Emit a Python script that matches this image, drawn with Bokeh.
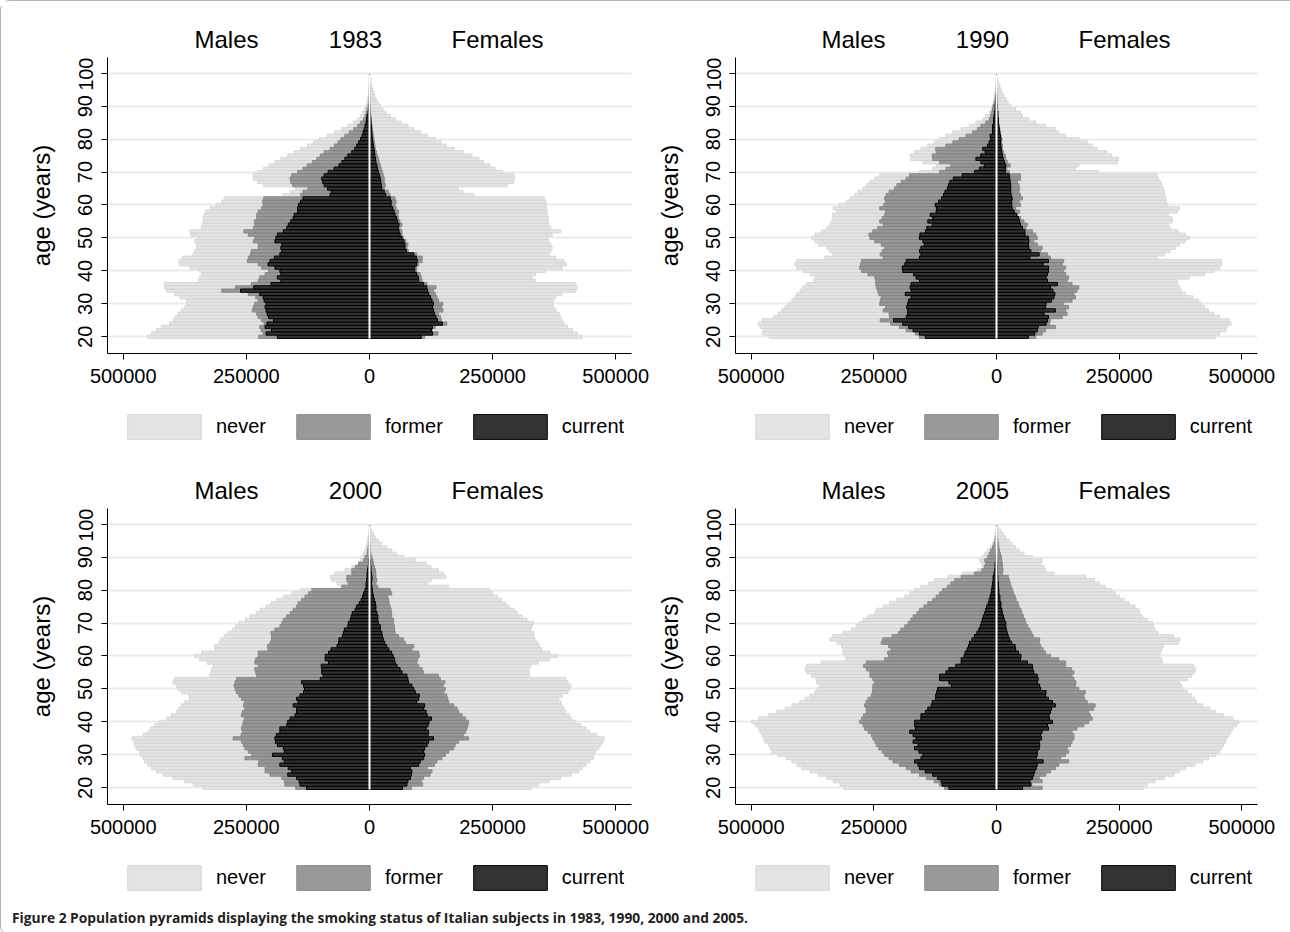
import numpy as np
from bokeh.plotting import figure
from bokeh.models import Range1d, FixedTicker, Legend, LegendItem, Div, ColumnDataSource
from bokeh.layouts import column, row
from bokeh.embed import file_html
from bokeh.resources import INLINE
from bokeh.core.properties import value

# ---------------------------------------------------------------- data
AGES = list(range(20, 100))                      # one bar per year of age
YEARS = ["1983", "1990", "2000", "2005"]
STATUSES = ["never", "former", "current"]
HEADER = ["Males", "Females"]
X_TICKS = [-500000, -250000, 0, 250000, 500000]
X_TICK_LABELS = ["500000", "250000", "0", "250000", "500000"]
Y_TICKS = [20, 30, 40, 50, 60, 70, 80, 90, 100]

# Cumulative counts in thousands of persons, ages 20..99.
#   *_CUR = current smokers, *_CF = current + former, *_ALL = all (incl. never)
M1983_ALL = [451, 443, 433, 423, 406, 399, 394, 389, 382, 375,
             371, 372, 385, 396, 412, 416, 417, 348, 345, 341,
             345, 365, 385, 387, 380, 358, 355, 351, 351, 355,
             348, 363, 365, 341, 340, 338, 338, 336, 332, 324,
             311, 300, 295, 175, 160, 150, 215, 228, 236, 236,
             227, 215, 204, 192, 180, 166, 153, 140, 126, 114,
             102, 86, 71, 57, 44, 33, 24, 18, 14, 10,
             7, 5, 4, 3, 2, 2, 1, 1, 1, 0.5]
M1983_CF = [225, 216, 220, 223, 214, 219, 226, 229, 238, 236,
            233, 226, 231, 246, 300, 272, 240, 226, 223, 212,
            205, 219, 226, 248, 246, 242, 240, 226, 226, 236,
            233, 246, 255, 236, 233, 234, 229, 229, 226, 219,
            216, 217, 215, 140, 135, 125, 156, 160, 161, 158,
            146, 135, 126, 116, 107, 100, 92, 80, 71, 64,
            58, 50, 41, 32, 24, 18, 12, 9, 7, 5,
            3, 2, 1.5, 1, 1, 0.5, 0.5, 0.3, 0.3, 0.2]
M1983_CUR = [187, 210, 199, 212, 208, 195, 205, 208, 210, 212,
             210, 214, 216, 223, 262, 235, 200, 180, 187, 180,
             182, 192, 206, 202, 193, 182, 178, 180, 178, 192,
             190, 187, 175, 168, 165, 160, 155, 153, 146, 146,
             144, 140, 135, 80, 78, 85, 92, 95, 97, 92,
             84, 72, 62, 56, 50, 44, 36, 30, 26, 22,
             18, 15, 13, 11, 9, 7, 6, 5, 3, 2,
             1.5, 1, 0.5, 0.5, 0.3, 0.2, 0.2, 0.1, 0.1, 0.1]
F1983_ALL = [432, 422, 412, 402, 395, 391, 388, 385, 379, 374,
             372, 374, 378, 391, 419, 422, 419, 337, 330, 337,
             357, 391, 400, 395, 378, 364, 368, 371, 368, 364,
             361, 371, 388, 368, 364, 363, 363, 361, 361, 359,
             359, 358, 355, 212, 190, 180, 280, 292, 295, 293,
             270, 255, 244, 232, 222, 208, 190, 172, 156, 145,
             134, 118, 104, 90, 78, 64, 52, 42, 33, 27,
             22, 18, 14, 11, 9, 7, 5, 4, 3, 1]
F1983_CF = [112, 139, 127, 134, 157, 146, 144, 140, 149, 147,
            149, 140, 137, 134, 130, 135, 117, 107, 105, 103,
            96, 96, 100, 107, 107, 96, 79, 76, 78, 74,
            69, 66, 66, 62, 66, 62, 59, 58, 59, 54,
            52, 54, 52, 42, 38, 30, 32, 30, 30, 28,
            26, 24, 22, 20, 18, 16, 14, 12, 11, 10,
            9, 8, 7, 6, 5, 4, 3, 3, 2, 2,
            1.5, 1, 1, 1, 0.5, 0.5, 0.5, 0.3, 0.3, 0.2]
F1983_CUR = [105, 128, 126, 128, 148, 138, 135, 132, 130, 128,
             130, 127, 124, 120, 118, 116, 110, 100, 99, 96,
             92, 92, 96, 97, 95, 90, 75, 72, 72, 70,
             66, 62, 60, 58, 60, 57, 55, 52, 50, 47,
             44, 44, 42, 33, 30, 25, 24, 23, 22, 20,
             18, 16, 15, 13, 12, 11, 10, 9, 8, 7,
             6, 5, 5, 4, 4, 3, 3, 2, 2, 1,
             1, 0.5, 0.5, 0.3, 0.3, 0.2, 0.2, 0.1, 0.1, 0.1]

M1990_ALL = [463, 478, 476, 482, 486, 478, 455, 445, 438, 431,
             424, 417, 411, 407, 400, 395, 387, 373, 370, 380,
             394, 407, 411, 407, 350, 334, 340, 346, 363, 370,
             377, 370, 357, 346, 340, 336, 333, 334, 326, 333,
             320, 306, 298, 289, 282, 272, 265, 258, 248, 238,
             157, 130, 123, 150, 175, 176, 167, 154, 140, 127,
             116, 103, 89, 72, 55, 42, 28, 22, 15, 11,
             8, 6, 5, 4, 3, 2, 2, 1, 1, 0.5]
M1990_CF = [157, 165, 184, 198, 216, 237, 218, 219, 231, 226,
            238, 237, 235, 240, 242, 245, 246, 246, 248, 262,
            275, 279, 277, 275, 231, 237, 233, 228, 235, 248,
            258, 260, 252, 242, 231, 238, 233, 228, 226, 238,
            230, 226, 228, 225, 219, 208, 203, 194, 184, 177,
            116, 103, 93, 116, 130, 131, 123, 124, 103, 89,
            76, 62, 49, 39, 32, 22, 15, 12, 10, 8,
            7, 5, 3, 2, 1, 0.5, 0.5, 0.3, 0.3, 0.2]
M1990_CUR = [145, 157, 170, 179, 191, 210, 184, 181, 181, 183,
             181, 179, 174, 186, 174, 176, 174, 157, 164, 169,
             191, 192, 187, 184, 157, 154, 157, 154, 147, 150,
             157, 156, 145, 142, 131, 140, 130, 135, 123, 122,
             125, 118, 112, 108, 105, 100, 98, 95, 88, 70,
             45, 35, 25, 32, 42, 32, 23, 28, 18, 15,
             12, 13, 8, 8, 8, 6, 6, 5, 4, 3,
             3, 2, 2, 2, 1, 0.5, 0.3, 0.2, 0.1, 0.1]
F1990_ALL = [447, 455, 467, 470, 478, 474, 455, 443, 432, 424,
             416, 412, 400, 385, 377, 373, 369, 369, 393, 424,
             443, 455, 459, 459, 327, 342, 354, 365, 373, 385,
             393, 385, 369, 354, 350, 358, 358, 350, 369, 373,
             348, 347, 345, 343, 342, 340, 337, 334, 330, 327,
             207, 161, 168, 246, 249, 235, 225, 205, 195, 185,
             168, 141, 127, 120, 100, 80, 66, 53, 49, 39,
             29, 24, 20, 15, 12, 9, 7, 5, 3, 1]
F1990_CF = [80, 93, 100, 120, 108, 110, 134, 144, 141, 147,
            137, 154, 161, 158, 164, 168, 154, 144, 147, 141,
            137, 141, 134, 137, 110, 104, 90, 93, 83, 76,
            83, 80, 73, 60, 63, 56, 49, 43, 47, 39,
            49, 46, 53, 49, 46, 47, 46, 43, 49, 49,
            26, 21, 28, 22, 19, 18, 14, 12, 12, 9,
            11, 9, 7, 7, 5, 4, 4, 3, 3, 2,
            2, 1, 1, 1, 1, 0.5, 0.5, 0.3, 0.3, 0.2]
F1990_CUR = [65, 78, 83, 85, 101, 104, 106, 97, 120, 100,
             101, 112, 117, 119, 115, 110, 124, 104, 101, 104,
             106, 106, 95, 106, 68, 87, 70, 66, 65, 66,
             65, 58, 58, 53, 49, 47, 45, 41, 36, 32,
             31, 31, 32, 30, 29, 29, 29, 28, 27, 26,
             18, 18, 19, 16, 14, 12, 11, 10, 9, 9,
             9, 8, 7, 6, 5, 4, 4, 3, 3, 2,
             2, 1, 1, 1, 0.5, 0.5, 0.3, 0.2, 0.1, 0.1]

M2000_ALL = [338, 358, 375, 399, 419, 433, 443, 450, 457, 460,
             465, 467, 474, 477, 478, 482, 460, 450, 444, 436,
             426, 412, 402, 392, 387, 382, 375, 365, 367, 382,
             389, 392, 399, 396, 325, 322, 320, 318, 330, 345,
             355, 341, 314, 315, 305, 302, 295, 288, 278, 272,
             265, 252, 243, 230, 222, 210, 200, 188, 175, 158,
             140, 58, 66, 77, 80, 70, 50, 36, 22, 19,
             16, 12, 9, 7, 5, 4, 3, 2, 1, 0.5]
M2000_CF = [150, 172, 173, 178, 202, 212, 212, 226, 225, 253,
            239, 246, 253, 256, 260, 277, 261, 258, 260, 258,
            256, 254, 260, 258, 253, 256, 254, 260, 265, 270,
            273, 275, 273, 270, 229, 231, 233, 226, 233, 231,
            226, 226, 206, 207, 202, 199, 199, 200, 192, 182,
            178, 175, 168, 161, 155, 148, 145, 138, 131, 124,
            117, 56, 43, 46, 46, 36, 36, 29, 22, 12,
            9, 5, 4, 3, 2, 1, 1, 0.5, 0.3, 0.2]
M2000_CUR = [128, 141, 143, 148, 166, 158, 165, 182, 173, 177,
             197, 173, 175, 187, 191, 192, 189, 182, 182, 168,
             166, 161, 151, 148, 148, 155, 145, 148, 141, 134,
             132, 134, 138, 100, 94, 97, 97, 98, 83, 90,
             90, 83, 78, 66, 63, 62, 55, 53, 51, 44,
             43, 39, 37, 35, 29, 26, 21, 17, 14, 12,
             9, 7, 7, 6, 5, 5, 4, 3, 2, 2,
             1, 0.5, 0.5, 0.3, 0.3, 0.2, 0.1, 0.1, 0.1, 0.1]
F2000_ALL = [328, 343, 365, 388, 410, 425, 432, 440, 447, 455,
             455, 459, 466, 470, 474, 477, 462, 447, 440, 429,
             418, 410, 406, 399, 395, 391, 388, 384, 391, 403,
             406, 409, 403, 399, 325, 324, 324, 328, 343, 365,
             382, 366, 350, 345, 342, 336, 334, 334, 328, 330,
             333, 320, 310, 300, 294, 284, 276, 268, 260, 250,
             243, 160, 117, 125, 155, 150, 140, 125, 115, 93,
             70, 56, 45, 35, 25, 18, 12, 8, 5, 2]
F2000_CF = [85, 108, 105, 110, 123, 127, 117, 132, 137, 147,
            154, 161, 171, 174, 181, 201, 191, 195, 198, 200,
            201, 195, 188, 181, 178, 171, 161, 159, 157, 151,
            154, 149, 153, 144, 140, 110, 107, 100, 96, 98,
            101, 100, 86, 90, 73, 69, 59, 52, 51, 51,
            49, 49, 45, 45, 44, 42, 40, 39, 37, 45,
            42, 17, 13, 15, 13, 13, 12, 10, 8, 7,
            5, 3, 2, 2, 1, 1, 1, 0.5, 0.5, 0.3]
F2000_CUR = [67, 76, 78, 83, 85, 86, 83, 100, 103, 110,
             112, 110, 112, 117, 120, 130, 119, 120, 115, 119,
             121, 126, 117, 115, 110, 112, 96, 100, 101, 93,
             90, 86, 79, 78, 76, 66, 62, 56, 52, 51,
             48, 45, 39, 35, 31, 28, 26, 25, 22, 22,
             18, 17, 17, 15, 13, 13, 12, 10, 8, 7,
             6, 5, 4, 5, 5, 4, 3, 3, 2, 2,
             1, 0.5, 0.5, 0.3, 0.3, 0.2, 0.1, 0.1, 0.1, 0.1]

M2005_ALL = [311, 319, 333, 346, 363, 380, 397, 407, 417, 428,
             445, 458, 461, 465, 472, 475, 478, 482, 485, 492,
             499, 485, 465, 448, 431, 417, 401, 390, 380, 370,
             365, 360, 367, 368, 377, 387, 390, 387, 357, 306,
             309, 313, 313, 316, 325, 340, 334, 313, 296, 286,
             279, 272, 262, 248, 245, 231, 218, 204, 187, 177,
             167, 154, 138, 127, 99, 69, 39, 28, 30, 34,
             28, 25, 18, 12, 8, 6, 4, 3, 2, 1]
M2005_CF = [106, 116, 127, 143, 157, 174, 184, 198, 211, 219,
            228, 233, 240, 245, 248, 252, 255, 262, 269, 272,
            279, 275, 271, 265, 266, 269, 266, 262, 255, 253,
            252, 252, 248, 252, 258, 258, 265, 271, 265, 228,
            220, 222, 215, 220, 235, 232, 213, 200, 195, 187,
            180, 175, 170, 162, 157, 148, 140, 130, 123, 116,
            110, 100, 93, 85, 72, 45, 30, 25, 22, 24,
            18, 15, 12, 8, 5, 3, 2, 1, 0.5, 0.3]
M2005_CUR = [97, 111, 113, 120, 130, 145, 157, 160, 167, 154,
             150, 158, 167, 160, 170, 164, 170, 177, 165, 167,
             167, 154, 154, 145, 140, 133, 131, 124, 124, 122,
             120, 92, 97, 116, 116, 103, 97, 83, 72, 72,
             66, 64, 60, 57, 55, 50, 45, 40, 36, 33,
             31, 29, 27, 24, 22, 20, 17, 15, 13, 11,
             10, 9, 8, 7, 7, 5, 4, 3, 3, 2,
             2, 1, 1, 0.5, 0.5, 0.3, 0.2, 0.1, 0.1, 0.1]
F2005_ALL = [300, 307, 323, 342, 362, 373, 385, 404, 420, 432,
             447, 455, 459, 463, 467, 470, 474, 478, 482, 490,
             494, 482, 463, 447, 435, 420, 408, 404, 397, 389,
             380, 377, 373, 389, 397, 404, 406, 402, 338, 337,
             332, 334, 337, 340, 371, 374, 361, 330, 323, 320,
             318, 308, 298, 292, 290, 282, 270, 260, 250, 242,
             235, 222, 210, 200, 182, 117, 100, 97, 90, 93,
             73, 56, 46, 39, 32, 26, 19, 14, 9, 4]
F2005_CF = [93, 72, 93, 87, 100, 110, 120, 127, 147, 131,
            141, 147, 144, 151, 154, 158, 158, 154, 164, 178,
            188, 195, 191, 188, 198, 201, 185, 180, 178, 181,
            168, 161, 162, 158, 154, 158, 153, 141, 141, 127,
            110, 100, 95, 90, 87, 88, 75, 72, 68, 64,
            60, 58, 55, 52, 50, 46, 44, 40, 38, 35,
            33, 30, 28, 26, 24, 12, 13, 12, 12, 11,
            10, 8, 6, 5, 4, 3, 2, 1.5, 1, 0.5]
F2005_CUR = [53, 70, 68, 73, 76, 78, 81, 83, 95, 81,
             83, 83, 87, 88, 87, 92, 90, 93, 106, 104,
             114, 108, 107, 110, 112, 120, 114, 106, 100, 101,
             90, 88, 83, 85, 83, 76, 74, 73, 63, 49,
             50, 45, 39, 38, 31, 27, 24, 22, 20, 19,
             19, 16, 14, 12, 11, 9, 9, 7, 7, 5,
             5, 4, 4, 3, 3, 2, 2, 2, 1.5, 1,
             1, 0.5, 0.5, 0.3, 0.3, 0.2, 0.1, 0.1, 0.1, 0.1]

PANELS = {
    "1983": (M1983_ALL, M1983_CF, M1983_CUR, F1983_ALL, F1983_CF, F1983_CUR),
    "1990": (M1990_ALL, M1990_CF, M1990_CUR, F1990_ALL, F1990_CF, F1990_CUR),
    "2000": (M2000_ALL, M2000_CF, M2000_CUR, F2000_ALL, F2000_CF, F2000_CUR),
    "2005": (M2005_ALL, M2005_CF, M2005_CUR, F2005_ALL, F2005_CF, F2005_CUR),
}

# ---------------------------------------------------------------- style
FONT = "Liberation Sans"
STYLE = {"never": ("#e4e4e4", "#d2d2d2", 0.8),
         "former": ("#999999", "#7d7d7d", 0.8),
         "current": ("#333333", "#000000", 1.0)}
FRAME_H = 296
# Bokeh insets area swatches by 10% on each side: 92 x 31 gives ~74 x 25 boxes
SW_W, SW_H = 92, 31
INSET_X, INSET_Y = 9, 3


def bare(frame_w, frame_h, b_left, b_right, xr, yr):
    """A figure with no axes, used for the header and legend strips."""
    f = figure(frame_width=frame_w, frame_height=frame_h, x_range=xr, y_range=yr,
               x_axis_type=None, y_axis_type=None, output_backend="svg", toolbar_location=None,
               min_border_left=b_left, min_border_right=b_right, min_border_top=0, min_border_bottom=0)
    f.outline_line_color = None
    f.grid.visible = False
    f.background_fill_color = "white"
    f.border_fill_color = "white"
    return f


def pyramid(year, frame_w, b_left, b_right, head_h, leg_h, leg_bottom):
    m_all, m_cf, m_cur, f_all, f_cf, f_cur = PANELS[year]
    k = 1000.0
    src = ColumnDataSource(dict(
        age=AGES,
        m_all=[-v * k for v in m_all], m_cf=[-v * k for v in m_cf], m_cur=[-v * k for v in m_cur],
        f_all=[v * k for v in f_all], f_cf=[v * k for v in f_cf], f_cur=[v * k for v in f_cur],
    ))

    # --- header strip: "Males   <year>   Females"
    half = frame_w / 2.0
    head = bare(frame_w, head_h, b_left, b_right, Range1d(-half, half), Range1d(0, head_h))
    head.text(x=[-143, -14, 128], y=[18, 18, 18], text=[HEADER[0], year, HEADER[1]],
              text_align="center", text_baseline="middle",
              text_font=value(FONT), text_font_size=value("24px"), text_color="black")

    # --- main pyramid
    p = figure(frame_width=frame_w, frame_height=FRAME_H,
               x_range=Range1d(-532000, 532000), y_range=Range1d(14.93, 104.76),
               output_backend="svg", toolbar_location=None,
               min_border_left=b_left, min_border_right=b_right,
               min_border_top=0, min_border_bottom=48)
    p.outline_line_color = None
    p.background_fill_color = "white"
    p.border_fill_color = "white"

    for status, mk, fk in (("never", "m_all", "f_all"),
                           ("former", "m_cf", "f_cf"),
                           ("current", "m_cur", "f_cur")):
        fill, line, lw = STYLE[status]
        p.hbar(y="age", left=mk, right=0, height=1, source=src,
               fill_color=fill, line_color=line, line_width=lw)
        p.hbar(y="age", left=0, right=fk, height=1, source=src,
               fill_color=fill, line_color=line, line_width=lw)
    p.segment(x0=0, y0=19.5, x1=0, y1=99.5, line_color="white", line_width=2)

    xa = p.xaxis[0]
    xa.ticker = FixedTicker(ticks=X_TICKS)
    xa.major_label_overrides = dict(zip(X_TICKS, X_TICK_LABELS))
    ya = p.yaxis[0]
    ya.ticker = FixedTicker(ticks=Y_TICKS)
    ya.major_label_orientation = "parallel"
    ya.axis_label = "age (years)"
    ya.axis_label_text_font = FONT
    ya.axis_label_text_font_size = "24px"
    ya.axis_label_text_font_style = "normal"
    ya.axis_label_text_color = "black"
    ya.axis_label_standoff = 21
    for ax in (xa, ya):
        ax.major_label_text_font = FONT
        ax.major_label_text_font_size = "20px"
        ax.major_label_text_color = "black"
        ax.major_tick_out = 6
        ax.major_tick_in = 0
        ax.minor_tick_out = 0
        ax.minor_tick_in = 0
        ax.axis_line_color = "black"
        ax.major_tick_line_color = "black"
        ax.major_label_standoff = 9
    p.ygrid.ticker = FixedTicker(ticks=Y_TICKS)
    p.ygrid.grid_line_color = "#e3edf0"
    p.ygrid.grid_line_width = 2
    p.xgrid.visible = False

    # --- legend strip (swatch renderers sit outside the strip's visible range)
    leg = bare(frame_w, leg_h, b_left, b_right, Range1d(0, frame_w), Range1d(0, leg_h))
    items = []
    for status in STATUSES:
        fill, line, lw = STYLE[status]
        r = leg.hbar(y=[-1000], left=[0], right=[1], height=1,
                     fill_color=fill, line_color=line, line_width=lw)
        items.append(LegendItem(label=status, renderers=[r]))
    legend = Legend(items=items, orientation="horizontal",
                    location=(20 - INSET_X, leg_bottom - INSET_Y),
                    glyph_width=SW_W, glyph_height=SW_H,
                    label_standoff=15 - INSET_X, spacing=30 - INSET_X,
                    padding=0, margin=0, border_line_color=None, background_fill_alpha=0,
                    label_text_font=FONT, label_text_font_size="20px", label_text_color="black",
                    label_height=25)
    leg.add_layout(legend)
    return column(head, p, leg, spacing=0)


c1 = pyramid("1983", 524, 106, 20, 56, 59, 21)
c2 = pyramid("1990", 522, 84, 32, 56, 59, 21)
c3 = pyramid("2000", 524, 106, 20, 48, 49, 11)
c4 = pyramid("2005", 522, 84, 32, 48, 49, 11)

caption = Div(
    text="<b>Figure 2 Population pyramids displaying the smoking status of Italian subjects in "
         "1983, 1990, 2000 and 2005.</b>",
    width=1288, height=24,
    styles={"font-family": "Open Sans", "font-size": "13.8px", "color": "#231f20",
            "padding-left": "6px", "line-height": "24px", "box-sizing": "border-box"})

root = column(row(c1, c2), row(c3, c4), caption,
              styles={"position": "absolute", "left": "0px", "top": "0px",
                      "border": "1px solid #b5b5b5", "border-radius": "10px"})

open("out.html", "w").write(file_html(root, INLINE))
